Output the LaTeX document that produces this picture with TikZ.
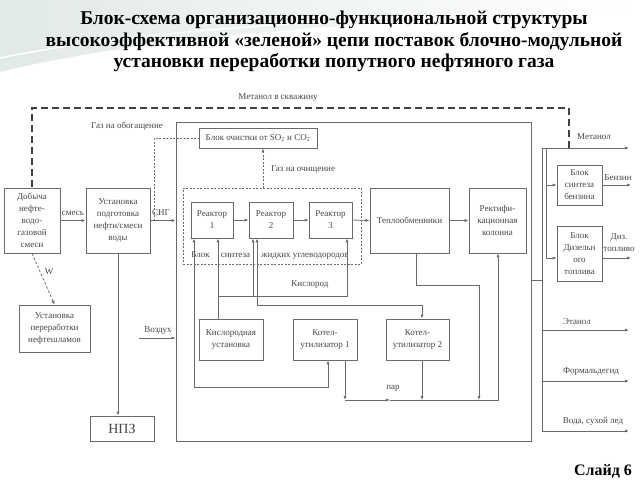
\documentclass[tikz,border=0pt]{standalone}
\usepackage{fontspec}
\setmainfont{Liberation Serif}
\usetikzlibrary{arrows.meta}
\definecolor{linec}{HTML}{6A6A6A}
\definecolor{textc}{HTML}{454545}
\definecolor{bgtint}{HTML}{E2E9E9}
\tikzset{
  bx/.style={draw=linec, line width=0.8pt, align=center, inner sep=1pt, text=textc,
    font=\fontsize{9}{12}\selectfont},
  lbl/.style={text=textc, font=\fontsize{9}{11}\selectfont, inner sep=0.5pt, align=center},
  ln/.style={draw=linec, line width=0.8pt},
  arr/.style={ln, -{Latex[length=4pt,width=3.2pt]}},
  arrb/.style={ln, {Latex[length=4pt,width=3.2pt]}-{Latex[length=4pt,width=3.2pt]}},
  dotl/.style={draw=linec, line width=0.8pt, dash pattern=on 2pt off 1.5pt},
  dsh/.style={draw=black!75, line width=1.4pt, dash pattern=on 7pt off 4pt},
}
\begin{document}
\begin{tikzpicture}[x=1pt,y=-1pt]
\useasboundingbox (0,0) rectangle (640,480);
% faint background swoosh
\shade[left color=bgtint, right color=white, middle color=bgtint!50]
  (0,0) -- (640,0) -- (640,8) .. controls (420,22) and (180,28) .. (0,72) -- cycle;
\draw[white, line width=1.5pt] (0,58) .. controls (160,25) and (400,18) .. (640,4);
% title
\node[font=\fontsize{19.5}{21.5}\selectfont\bfseries, align=center] (title) at (334,41.5)
 {Блок-схема организационно-функциональной структуры\\
  высокоэффективной «зеленой» цепи поставок блочно-модульной\\
  установки переработки попутного нефтяного газа};
\node[font=\fontsize{16}{18}\selectfont\bfseries] (slide) at (603,471) {Слайд 6};

% boxes
\node[bx, minimum width=56pt, minimum height=65pt] (dob) at (32,220.5) {Добыча\\нефте-\\водо-\\газовой\\смеси};
\node[bx, minimum width=64pt, minimum height=65pt] (ustp) at (118,220.5) {Установка\\подготовка\\нефти/смеси\\воды};
\node[bx, minimum width=71pt, minimum height=47pt] (neft) at (54.5,328.5) {Установка\\переработки\\нефтешламов};
\node[bx, minimum width=64pt, minimum height=25pt, font=\fontsize{14}{16}\selectfont] (npz) at (122,428.5) {НПЗ};
\node[draw=linec, line width=0.8pt, minimum width=355pt, minimum height=319pt, inner sep=0pt] (outer) at (353.5,281.5) {};
\node[bx, minimum width=118pt, minimum height=20pt] (och) at (258,138) {Блок очистки от SO\textsubscript{2} и CO\textsubscript{2}};
\node[dotl, minimum width=178pt, minimum height=76pt, inner sep=0pt] (sint) at (272,226) {};
\node[bx, minimum width=42pt, minimum height=36pt] (r1) at (212,220) {Реактор\\1};
\node[bx, minimum width=44pt, minimum height=36pt] (r2) at (271,220) {Реактор\\2};
\node[bx, minimum width=43pt, minimum height=36pt] (r3) at (330.5,220) {Реактор\\3};
\node[bx, minimum width=79pt, minimum height=65pt] (tep) at (409.5,220.5) {Теплообменники};
\node[bx, minimum width=57pt, minimum height=65pt] (rek) at (497.5,220.5) {Ректифи-\\кационная\\колонна};
\node[bx, minimum width=45pt, minimum height=40pt] (ben) at (579.5,185) {Блок\\синтеза\\бензина};
\node[bx, minimum width=45pt, minimum height=55pt] (diz) at (579.5,253.5) {Блок\\Дизельн\\ого\\топлива};
\node[bx, minimum width=64pt, minimum height=41pt] (kis) at (231,339.5) {Кислородная\\установка};
\node[bx, minimum width=64pt, minimum height=41pt] (k1) at (325,339.5) {Котел-\\утилизатор 1};
\node[bx, minimum width=63pt, minimum height=41pt] (k2) at (417.5,339.5) {Котел-\\утилизатор 2};

% coordinates
\coordinate (mtop) at (569,148);
\coordinate (dtop) at (569,108);
\coordinate (g1) at (154,220.5);
\coordinate (go) at (263,188);
\coordinate (ox1) at (218,319);
\coordinate (ox2) at (218,296);
\coordinate (ox3) at (347,296);
\coordinate (ox4) at (253,296);
\coordinate (c1) at (257,305);
\coordinate (c2) at (422,305);
\coordinate (d1) at (194,387);
\coordinate (d2) at (328,387);
\coordinate (s1) at (345,400);
\coordinate (s2) at (390,400);
\coordinate (s3) at (422,400);
\coordinate (s4) at (479,400);
\coordinate (s5) at (498,400);
\coordinate (t1) at (416,285);
\coordinate (t2) at (479,285);
\coordinate (air) at (139,338);
\coordinate (e1) at (542,280);
\coordinate (v1) at (542,148);
\coordinate (v2) at (542,431);
\coordinate (w1) at (546,148);
\coordinate (w2) at (546,185);
\coordinate (w3) at (546,258);
\coordinate (oMet) at (629,148);
\coordinate (oBen) at (631,185);
\coordinate (oDiz) at (631,258);
\coordinate (eth) at (542,330);
\coordinate (oEth) at (629,330);
\coordinate (frm) at (542,381);
\coordinate (oFrm) at (629,381);
\coordinate (oVod) at (629,431);

% dashed methanol return
\draw[dsh] (mtop) -- (dtop) -| (dob.north);
\draw[black!75, line width=0.8pt, -{Latex[length=4pt,width=3.2pt]}] ([yshift=6pt]dob.north) -- (dob.north);
\node[lbl] (lmet) at (278,98) {Метанол в скважину};

% left part
\draw[arr] (dob.east) -- (ustp.west);
\node[lbl] (lsm) at (73,213) {смесь};
\draw[arr] (ustp.east) -- (ustp.east -| outer.west);
\node[lbl] (lsng) at (161,213) {СНГ};
\draw[dotl] (g1) |- (och.west);
\node[lbl] (lgo) at (127,126) {Газ на обогащение};
\draw[ln, dash pattern=on 2.5pt off 2pt, -{Latex[length=4pt,width=3.2pt]}] (dob.south) -- (neft.north);
\node[lbl] (lw) at (49,272) {W};
\draw[arr] (ustp.south) -- (ustp.south |- npz.north);
\draw[arr] (air) -- (air -| outer.west);
\node[lbl] (lair) at (158,331) {Воздух};

% gas cleaning
\draw[dotl, -{Latex[length=4pt,width=3.2pt]}] (go) -- (go |- och.south);
\node[lbl] (lgoch) at (303,169) {Газ на очищение};
\node[lbl] (lsint) at (270,256) {Блок \quad синтеза \quad жидких углеводородов};

% reactor chain
\draw[arr] (r1.east) -- (r2.west);
\draw[arr] (r2.east) -- (r3.west);
\draw[arr] (r3.east) -- (tep.west);
\draw[arr] (tep.east) -- (rek.west);

% oxygen
\draw[arr] (ox1) -- (ox1 |- r1.south);
\draw[arr] (ox2) -- (ox3) -- (ox3 |- r3.south);
\draw[arr] (ox4) -- (ox4 |- r2.south);
\node[lbl] (lox) at (310,285) {Кислород};

% reactor 2 -- boiler 2
\draw[arrb] (c1 |- r2.south) -- (c1) -- (c2) -- (c2 |- k2.north);
% reactor 1 -- boiler 1
\draw[arrb] (d1 |- r1.south) -- (d1) -- (d2) -- (d2 |- k1.south);

% steam
\draw[arr] (s1 |- k1.south) -- (s1);
\draw[arr] (s1) -- (s2);
\draw[arr] (s2) -- (s5) -- (s5 |- rek.south);
\node[lbl] (lpar) at (393,388) {пар};
\draw[arr] (s3 |- k2.south) -- (s3);
\draw[arr] (t1 |- tep.south) -- (t1) -- (t2) -- (s4);

% right side
\draw[ln] (e1 -| outer.east) -- (e1);
\draw[ln] (v1) -- (v2);
\draw[ln] (w1) -- (w3);
\draw[arr] (v1) -- (oMet);
\node[lbl] (lmeth) at (594,137) {Метанол};
\draw[arr] (w2) -- (ben.west);
\draw[arr] (ben.east) -- (oBen);
\node[lbl] (lben) at (618,178) {Бензин};
\draw[arr] (w3) -- (w3 -| diz.west);
\draw[arr] (w3 -| diz.east) -- (oDiz);
\node[lbl, font=\fontsize{9}{12}\selectfont] (ldiz) at (619,243) {Диз.\\топливо};
\draw[arr] (eth) -- (oEth);
\node[lbl] (leth) at (577,322) {Этанол};
\draw[arr] (frm) -- (oFrm);
\node[lbl] (lfrm) at (591,372) {Формальдегид};
\draw[arr] (v2) -- (oVod);
\node[lbl] (lvod) at (593,421) {Вода, сухой лед};
\end{tikzpicture}
\end{document}
